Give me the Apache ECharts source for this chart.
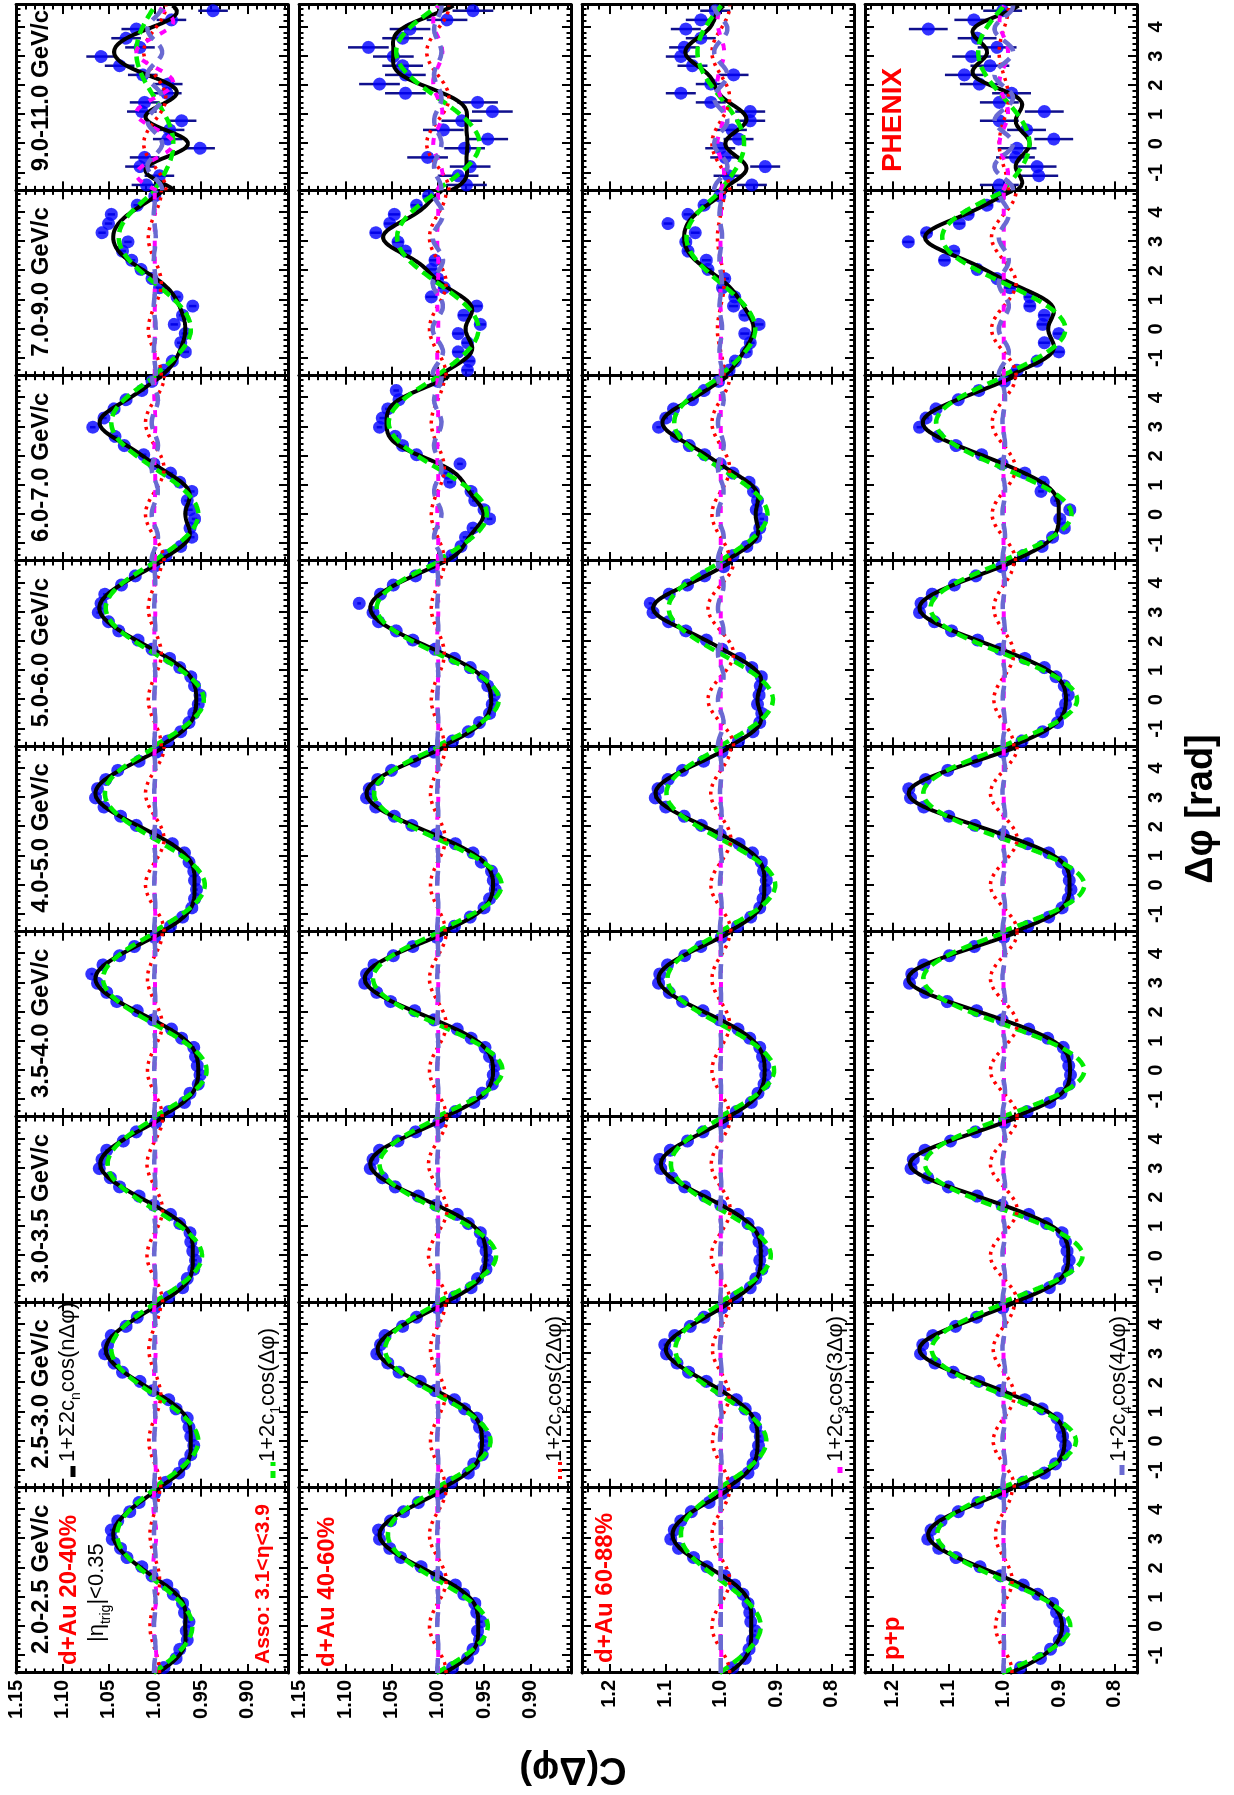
<!DOCTYPE html>
<html>
<head>
<meta charset="utf-8">
<script src="https://cdn.jsdelivr.net/npm/echarts@6/dist/echarts.min.js"></script>
<style>
html,body{margin:0;padding:0;width:1234px;height:1795px;overflow:hidden;background:#fff;}
#rot{position:absolute;left:0;top:0;width:1795px;height:1234px;transform-origin:0 0;transform:translate(0px,1795px) rotate(-90deg);background:#fff;}
</style>
</head>
<body>
<div id="rot"></div>
<script>
// ---------------- data ----------------
const PT_BINS = ['2.0-2.5 GeV/c','2.5-3.0 GeV/c','3.0-3.5 GeV/c','3.5-4.0 GeV/c','4.0-5.0 GeV/c','5.0-6.0 GeV/c','6.0-7.0 GeV/c','7.0-9.0 GeV/c','9.0-11.0 GeV/c'];
const SYSTEMS = ['d+Au 20-40%','d+Au 40-60%','d+Au 60-88%','p+p'];
const DPHI = [-1.414,-1.100,-0.785,-0.471,-0.157,0.157,0.471,0.785,1.100,1.414,1.728,2.042,2.356,2.670,2.985,3.299,3.613,3.927,4.241,4.555];
const X_TICKS = [-1,0,1,2,3,4];
const Y_TICKS_NARROW = [0.90,0.95,1.00,1.05,1.10,1.15];
const Y_TICKS_WIDE = [0.8,0.9,1.0,1.1,1.2];

// C(dphi) per pT bin, d+Au 20-40%
const C_DAU2040 = [
 [0.990,0.977,0.973,0.965,0.966,0.963,0.968,0.970,0.980,0.987,1.003,1.014,1.030,1.037,1.046,1.047,1.040,1.027,1.017,1.000],
 [0.988,0.974,0.968,0.961,0.958,0.961,0.963,0.965,0.977,0.985,1.002,1.016,1.035,1.044,1.054,1.051,1.047,1.031,1.019,1.000],
 [0.985,0.970,0.965,0.958,0.956,0.959,0.961,0.962,0.973,0.983,1.001,1.017,1.038,1.048,1.060,1.057,1.052,1.034,1.020,0.999],
 [0.985,0.968,0.962,0.953,0.951,0.954,0.956,0.958,0.971,0.982,1.002,1.019,1.041,1.052,1.062,1.068,1.056,1.038,1.022,1.000],
 [0.983,0.970,0.960,0.957,0.955,0.957,0.958,0.963,0.968,0.981,0.999,1.020,1.037,1.055,1.064,1.062,1.053,1.040,1.017,0.998],
 [0.986,0.972,0.963,0.958,0.953,0.951,0.957,0.961,0.973,0.984,1.003,1.018,1.039,1.050,1.061,1.058,1.054,1.036,1.021,1.001],
 [0.988,0.972,0.960,0.962,0.957,0.962,0.965,0.960,0.973,0.983,1.001,1.012,1.033,1.043,1.067,1.055,1.044,1.031,1.014,1.003],
 [0.990,0.981,0.967,0.972,0.967,0.979,0.970,0.959,0.976,0.995,1.003,1.015,1.025,1.035,1.029,1.057,1.050,1.047,1.019,1.000],
 [1.009,0.995,1.016,1.011,0.951,0.986,0.984,0.971,1.014,1.011,0.987,0.986,1.013,1.038,1.058,1.016,1.031,1.020,0.982,0.937]
];
const C_DAU4060 = [
 [0.984,0.968,0.962,0.955,0.957,0.953,0.958,0.960,0.972,0.981,1.001,1.018,1.040,1.052,1.063,1.064,1.051,1.037,1.021,0.998],
 [0.985,0.967,0.961,0.952,0.950,0.949,0.955,0.958,0.971,0.982,1.003,1.019,1.042,1.054,1.066,1.062,1.057,1.038,1.023,1.000],
 [0.982,0.964,0.957,0.948,0.946,0.948,0.951,0.954,0.967,0.979,1.002,1.021,1.046,1.060,1.073,1.070,1.063,1.043,1.024,0.999],
 [0.981,0.961,0.952,0.941,0.940,0.938,0.944,0.949,0.964,0.979,1.004,1.025,1.051,1.066,1.079,1.077,1.069,1.048,1.027,1.001],
 [0.982,0.965,0.950,0.944,0.938,0.940,0.942,0.953,0.962,0.981,1.002,1.028,1.047,1.067,1.077,1.074,1.065,1.050,1.025,1.004],
 [0.984,0.967,0.955,0.944,0.941,0.939,0.946,0.951,0.965,0.982,1.003,1.027,1.045,1.064,1.070,1.085,1.062,1.048,1.024,1.005],
 [0.985,0.975,0.970,0.962,0.944,0.950,0.960,0.964,0.987,0.990,0.976,1.023,1.038,1.046,1.063,1.060,1.054,1.042,1.045,1.000],
 [0.968,0.966,0.978,0.968,0.978,0.954,0.972,0.958,1.007,0.993,1.000,1.007,1.003,1.035,1.043,1.067,1.052,1.047,1.023,1.010],
 [0.969,0.978,0.965,1.011,0.971,0.946,0.994,0.974,0.941,0.957,1.035,1.063,1.035,1.038,1.048,1.075,1.038,1.030,0.990,0.962]
];
const C_DAU6088 = [
 [0.978,0.956,0.949,0.943,0.938,0.946,0.948,0.951,0.960,0.975,0.993,1.025,1.049,1.076,1.090,1.084,1.072,1.053,1.021,0.997],
 [0.976,0.951,0.942,0.936,0.932,0.929,0.937,0.939,0.956,0.972,1.001,1.026,1.058,1.079,1.098,1.101,1.083,1.055,1.030,0.998],
 [0.972,0.947,0.937,0.926,0.930,0.925,0.931,0.933,0.951,0.969,1.000,1.029,1.065,1.088,1.108,1.110,1.091,1.060,1.032,0.997],
 [0.972,0.945,0.933,0.922,0.919,0.921,0.925,0.930,0.948,0.969,1.002,1.032,1.069,1.093,1.112,1.110,1.096,1.065,1.036,0.999],
 [0.970,0.946,0.930,0.924,0.920,0.918,0.923,0.927,0.943,0.967,1.001,1.035,1.066,1.099,1.118,1.113,1.095,1.069,1.031,0.998],
 [0.968,0.942,0.930,0.926,0.934,0.931,0.929,0.927,0.944,0.966,0.998,1.026,1.063,1.094,1.122,1.127,1.093,1.060,1.029,0.995],
 [0.978,0.953,0.937,0.930,0.926,0.936,0.934,0.941,0.949,0.978,1.001,1.029,1.057,1.080,1.112,1.099,1.085,1.051,1.030,1.004],
 [0.985,0.974,0.954,0.947,0.957,0.931,0.957,0.977,0.975,0.997,0.993,1.023,1.026,1.059,1.063,1.046,1.095,1.059,1.030,1.002],
 [0.944,0.986,0.920,0.992,1.001,0.968,0.980,0.947,0.947,1.018,1.072,1.018,0.977,1.051,1.072,1.066,1.036,1.063,1.036,1.010]
];
const C_PP = [
 [0.970,0.934,0.916,0.900,0.893,0.899,0.905,0.912,0.939,0.965,1.006,1.043,1.086,1.117,1.137,1.131,1.113,1.082,1.047,1.003],
 [0.965,0.927,0.907,0.893,0.889,0.894,0.897,0.904,0.931,0.962,1.006,1.045,1.091,1.124,1.150,1.146,1.128,1.087,1.049,1.002],
 [0.958,0.918,0.899,0.885,0.882,0.886,0.889,0.895,0.923,0.955,1.003,1.048,1.100,1.137,1.167,1.163,1.142,1.096,1.051,0.999],
 [0.958,0.917,0.897,0.882,0.880,0.883,0.886,0.893,0.921,0.955,1.003,1.049,1.102,1.141,1.170,1.166,1.144,1.098,1.053,1.000],
 [0.957,0.919,0.895,0.884,0.879,0.882,0.884,0.896,0.919,0.957,1.001,1.052,1.099,1.144,1.168,1.171,1.141,1.101,1.050,1.002],
 [0.967,0.930,0.903,0.896,0.889,0.884,0.891,0.906,0.927,0.962,1.007,1.047,1.094,1.125,1.152,1.149,1.129,1.089,1.050,1.004],
 [0.965,0.931,0.912,0.891,0.899,0.881,0.905,0.933,0.929,0.962,1.003,1.040,1.086,1.118,1.152,1.140,1.122,1.082,1.045,0.999],
 [0.976,0.940,0.901,0.927,0.901,0.930,0.927,0.953,0.953,0.989,1.012,1.048,1.107,1.090,1.172,1.139,1.080,1.064,1.030,1.008],
 [1.008,0.937,0.940,0.979,0.976,0.910,0.959,1.008,0.927,1.008,0.986,1.044,1.071,1.025,1.058,1.012,1.048,1.136,1.054,1.002]
];
// statistical error per pT bin
const ERR_DAU2040 = [0.0015,0.0015,0.0015,0.0015,0.0015,0.002,0.003,0.004,0.016];
const ERR_DAU4060 = [0.0015,0.0015,0.0015,0.0015,0.002,0.002,0.003,0.006,0.022];
const ERR_DAU6088 = [0.002,0.002,0.002,0.002,0.002,0.003,0.004,0.008,0.027];
const ERR_PP      = [0.002,0.002,0.002,0.002,0.003,0.003,0.005,0.010,0.035];

// Fourier coefficients c1..c4 of the fits, per pT bin
const FIT_C1_DAU2040 = [-0.0203,-0.0235,-0.0255,-0.028,-0.027,-0.0265,-0.0235,-0.0195,-0.010];
const FIT_C2_DAU2040 = [0.0026,0.0032,0.0042,0.004,0.005,0.0035,0.005,0.0035,0.006];
const FIT_C3_DAU2040 = [0.0008,0.0005,0.0005,0.0002,0.0002,0.0003,0.0003,0.0,-0.010];
const FIT_C4_DAU2040 = [0.0004,0.0003,0.0003,0.0003,0.0003,0.0003,0.0017,-0.0005,-0.004];
const FIT_C1_DAU4060 = [-0.027,-0.0285,-0.0315,-0.035,-0.0345,-0.033,-0.0265,-0.022,-0.0225];
const FIT_C2_DAU4060 = [0.0045,0.004,0.005,0.0045,0.004,0.0035,0.0035,0.0045,0.006];
const FIT_C3_DAU4060 = [0.0003,0.0003,0.0003,0.0003,0.0003,0.0003,0.0003,-0.0003,0.0025];
const FIT_C4_DAU4060 = [0.0003,0.0003,0.0003,0.0003,0.0003,0.0003,-0.002,0.0028,-0.002];
const FIT_C1_DAU6088 = [-0.036,-0.041,-0.045,-0.048,-0.049,-0.047,-0.042,-0.031,-0.021];
const FIT_C2_DAU6088 = [0.008,0.0075,0.0085,0.008,0.009,0.0115,0.008,0.003,0.008];
const FIT_C3_DAU6088 = [0.0005,-0.0003,0.0,0.0002,0.0,0.0,0.0,-0.0003,0.003];
const FIT_C4_DAU6088 = [0.0,0.0007,0.0005,0.0003,0.0008,0.0025,0.0026,-0.0012,0.006];
const FIT_C1_PP = [-0.060,-0.065,-0.071,-0.0725,-0.0725,-0.066,-0.061,-0.0555,-0.0231];
const FIT_C2_PP = [0.0075,0.0095,0.012,0.012,0.012,0.009,0.0105,0.011,0.0042];
const FIT_C3_PP = [-0.0003,-0.0003,-0.0003,-0.0003,0.0,0.0,-0.0003,0.0,0.0039];
const FIT_C4_PP = [0.0003,0.0012,0.0012,0.0012,0.0012,0.001,0.0012,0.0045,-0.0084];

// ---------------- layout / style ----------------
const FONT = '"Liberation Sans", Arial, Helvetica, sans-serif';
const X_RANGE = [-1.6, 4.75];
const Y_RANGES = [[0.856,1.15],[0.856,1.15],[0.76,1.25],[0.76,1.25]];
const LEFT0 = 122, PANEL_W = 185.33, PANEL_H = 272;
const ROW_TOP = [16, 299, 582, 865];

const ROWS = [
  {pts: C_DAU2040, err: ERR_DAU2040, c: [FIT_C1_DAU2040, FIT_C2_DAU2040, FIT_C3_DAU2040, FIT_C4_DAU2040], yt: Y_TICKS_NARROW, dec: 2, minorStep: 0.01},
  {pts: C_DAU4060, err: ERR_DAU4060, c: [FIT_C1_DAU4060, FIT_C2_DAU4060, FIT_C3_DAU4060, FIT_C4_DAU4060], yt: Y_TICKS_NARROW, dec: 2, minorStep: 0.01},
  {pts: C_DAU6088, err: ERR_DAU6088, c: [FIT_C1_DAU6088, FIT_C2_DAU6088, FIT_C3_DAU6088, FIT_C4_DAU6088], yt: Y_TICKS_WIDE, dec: 1, minorStep: 0.02},
  {pts: C_PP,      err: ERR_PP,      c: [FIT_C1_PP, FIT_C2_PP, FIT_C3_PP, FIT_C4_PP], yt: Y_TICKS_WIDE, dec: 1, minorStep: 0.02}
];

const CURVE_STYLES = [
  {n: 0, color: '#000000', width: 4,   type: 'solid', z: 4},
  {n: 1, color: '#00ee00', width: 4.5, type: [11, 6], z: 5},
  {n: 2, color: '#ff0000', width: 3.5, type: [3, 5],  z: 6},
  {n: 3, color: '#ff00ff', width: 4,   type: [7, 9],  z: 7},
  {n: 4, color: '#6a6ad2', width: 4.5, type: [15, 8], z: 8}
];

function stepTicks(a, b, s) {
  const out = [];
  for (let v = Math.ceil(a / s - 1e-9) * s; v <= b + 1e-9; v += s) out.push(Math.round(v * 1000) / 1000);
  return out;
}
const X_MINOR = stepTicks(X_RANGE[0], X_RANGE[1], 0.2);

function fourier(cs, x, only) {
  if (only) return 1 + 2 * cs[only - 1] * Math.cos(only * x);
  let s = 1;
  for (let n = 1; n <= 4; n++) s += 2 * cs[n - 1] * Math.cos(n * x);
  return s;
}

function mkAxis(gi, pos, range, ticks, len, showLine, label) {
  return {
    type: 'value', gridIndex: gi, position: pos, min: range[0], max: range[1],
    splitLine: {show: false}, splitArea: {show: false},
    axisLine: {show: showLine, onZero: false, lineStyle: {color: '#000', width: 3}},
    axisTick: {show: true, inside: true, length: len, customValues: ticks, lineStyle: {color: '#000', width: 2}},
    axisLabel: label || {show: false},
    axisPointer: {show: false}
  };
}

const grids = [], xAxes = [], yAxes = [], series = [];
for (let r = 0; r < 4; r++) {
  const row = ROWS[r];
  const yMinor = stepTicks(Y_RANGES[r][0], Y_RANGES[r][1], row.minorStep);
  for (let k = 0; k < 9; k++) {
    const gi = grids.length;
    grids.push({left: LEFT0 + k * PANEL_W, top: ROW_TOP[r], width: PANEL_W, height: PANEL_H, show: false});
    const xi = xAxes.length, yi = yAxes.length;
    const xLabel = r === 3 ? {show: true, customValues: X_TICKS, margin: 9, color: '#000', fontSize: 20, fontWeight: 'bold', fontFamily: FONT, formatter: v => String(v)} : null;
    xAxes.push(mkAxis(gi, 'bottom', X_RANGE, X_TICKS, 9, true, xLabel));
    xAxes.push(mkAxis(gi, 'bottom', X_RANGE, X_MINOR, 4.5, false, null));
    xAxes.push(mkAxis(gi, 'top', X_RANGE, X_TICKS, 9, true, null));
    xAxes.push(mkAxis(gi, 'top', X_RANGE, X_MINOR, 4.5, false, null));
    const dec = row.dec;
    const yLabel = k === 0 ? {show: true, customValues: row.yt, margin: 7, color: '#000', fontSize: 20, fontWeight: 'bold', fontFamily: FONT, formatter: v => v.toFixed(dec)} : null;
    yAxes.push(mkAxis(gi, 'left', Y_RANGES[r], row.yt, 9, true, yLabel));
    yAxes.push(mkAxis(gi, 'left', Y_RANGES[r], yMinor, 4.5, false, null));
    yAxes.push(mkAxis(gi, 'right', Y_RANGES[r], row.yt, 9, true, null));
    yAxes.push(mkAxis(gi, 'right', Y_RANGES[r], yMinor, 4.5, false, null));

    const pts = row.pts[k];
    const err = row.err[k];
    const cs = [row.c[0][k], row.c[1][k], row.c[2][k], row.c[3][k]];

    series.push({
      type: 'custom', xAxisIndex: xi, yAxisIndex: yi, z: 1, silent: true, clip: true,
      encode: {x: 0, y: 1},
      data: pts.map((y, i) => [DPHI[i], y, err]),
      renderItem: (params, api) => {
        const x = api.value(0), y = api.value(1), e = api.value(2);
        const p1 = api.coord([x, y - e]), p2 = api.coord([x, y + e]);
        return {type: 'line', shape: {x1: p1[0], y1: p1[1], x2: p2[0], y2: p2[1]}, style: {stroke: '#10108c', lineWidth: 2.5}};
      }
    });
    series.push({
      type: 'scatter', xAxisIndex: xi, yAxisIndex: yi, z: 2, silent: true,
      symbol: 'circle', symbolSize: 13, itemStyle: {color: '#0000ff'},
      data: pts.map((y, i) => [DPHI[i], y])
    });
    for (const st of CURVE_STYLES) {
      const d = [];
      for (let x = X_RANGE[0]; x <= X_RANGE[1] + 1e-9; x += 0.03) d.push([x, fourier(cs, x, st.n)]);
      series.push({
        type: 'line', xAxisIndex: xi, yAxisIndex: yi, z: st.z, silent: true,
        showSymbol: false, symbol: 'none', data: d, clip: true,
        lineStyle: {color: st.color, width: st.width, type: st.type}
      });
    }
  }
}

// ---------------- texts ----------------
const G = [];
function txt(x, y, text, opts) {
  G.push(Object.assign({type: 'text', x: x, y: y, z: 100, silent: true,
    style: Object.assign({text: text, fill: '#000', align: 'left', verticalAlign: 'middle',
      font: 'bold 24px ' + FONT}, opts && opts.style)}, opts && opts.el));
}
for (let k = 0; k < 9; k++) txt(LEFT0 + k * PANEL_W + 19, 41.5, PT_BINS[k]);
txt(130, 69.5, SYSTEMS[0], {style: {fill: '#ff0000'}});
txt(128, 327, SYSTEMS[1], {style: {fill: '#ff0000'}});
txt(132, 605, SYSTEMS[2], {style: {fill: '#ff0000'}});
txt(135, 892, SYSTEMS[3], {style: {fill: '#ff0000'}});
txt(131, 263, 'Asso: 3.1<η<3.9', {style: {fill: '#ff0000', font: 'bold 21px ' + FONT}});
const RICH = {
  m: {fontSize: 22, fontFamily: FONT, lineHeight: 30, fill: '#000'},
  s: {fontSize: 14, fontFamily: FONT, lineHeight: 14, verticalAlign: 'bottom', fill: '#000'}
};
const RICH_ETA = {
  m: {fontSize: 22, fontFamily: FONT, lineHeight: 32, fill: '#000'},
  s: {fontSize: 14, fontFamily: FONT, lineHeight: 14, verticalAlign: 'bottom', fill: '#000'}
};
txt(153, 97, '{m||η}{s|trig}{m||<0.35}', {style: {rich: RICH_ETA, font: '22px ' + FONT}});
// legend entries
const LEG_X = 333;
txt(LEG_X, 68, '{m|1+Σ2c}{s|n}{m|cos(nΔφ)}', {style: {rich: RICH, font: '22px ' + FONT}});
txt(LEG_X, 268, '{m|1+2c}{s|1}{m|cos(Δφ)}', {style: {rich: RICH, font: '22px ' + FONT}});
txt(LEG_X, 555, '{m|1+2c}{s|2}{m|cos(2Δφ)}', {style: {rich: RICH, font: '22px ' + FONT}});
txt(LEG_X, 836, '{m|1+2c}{s|3}{m|cos(3Δφ)}', {style: {rich: RICH, font: '22px ' + FONT}});
txt(LEG_X, 1119, '{m|1+2c}{s|4}{m|cos(4Δφ)}', {style: {rich: RICH, font: '22px ' + FONT}});
function seg(x1, x2, y, color, w, dash) {
  G.push({type: 'line', z: 100, silent: true, shape: {x1: x1, y1: y, x2: x2, y2: y},
    style: {stroke: color, lineWidth: w, lineDash: dash || null}});
}
seg(318, 329, 73, '#000000', 5);
seg(317, 333, 273, '#00ee00', 5, [7, 5]);
seg(316, 333, 560, '#ff0000', 4, [3, 4]);
seg(322, 328, 840, '#ff00ff', 5);
seg(320, 330, 1122, '#6a6ad2', 5);
txt(1675, 893, 'PHENIX', {style: {fill: '#ff0000', font: 'bold 28px ' + FONT, align: 'center'}});
// axis titles
txt(27, 573, 'C(Δφ)', {style: {font: 'bold 38px ' + FONT, align: 'center'}, el: {rotation: Math.PI / 2}});
txt(986, 1202, 'Δφ [rad]', {style: {font: 'bold 38px ' + FONT, align: 'center'}});

const chart = echarts.init(document.getElementById('rot'), null, {renderer: 'canvas', width: 1795, height: 1234});
chart.setOption({
  animation: false,
  backgroundColor: '#ffffff',
  grid: grids,
  xAxis: xAxes,
  yAxis: yAxes,
  series: series,
  graphic: {elements: G}
});
</script>
</body>
</html>
